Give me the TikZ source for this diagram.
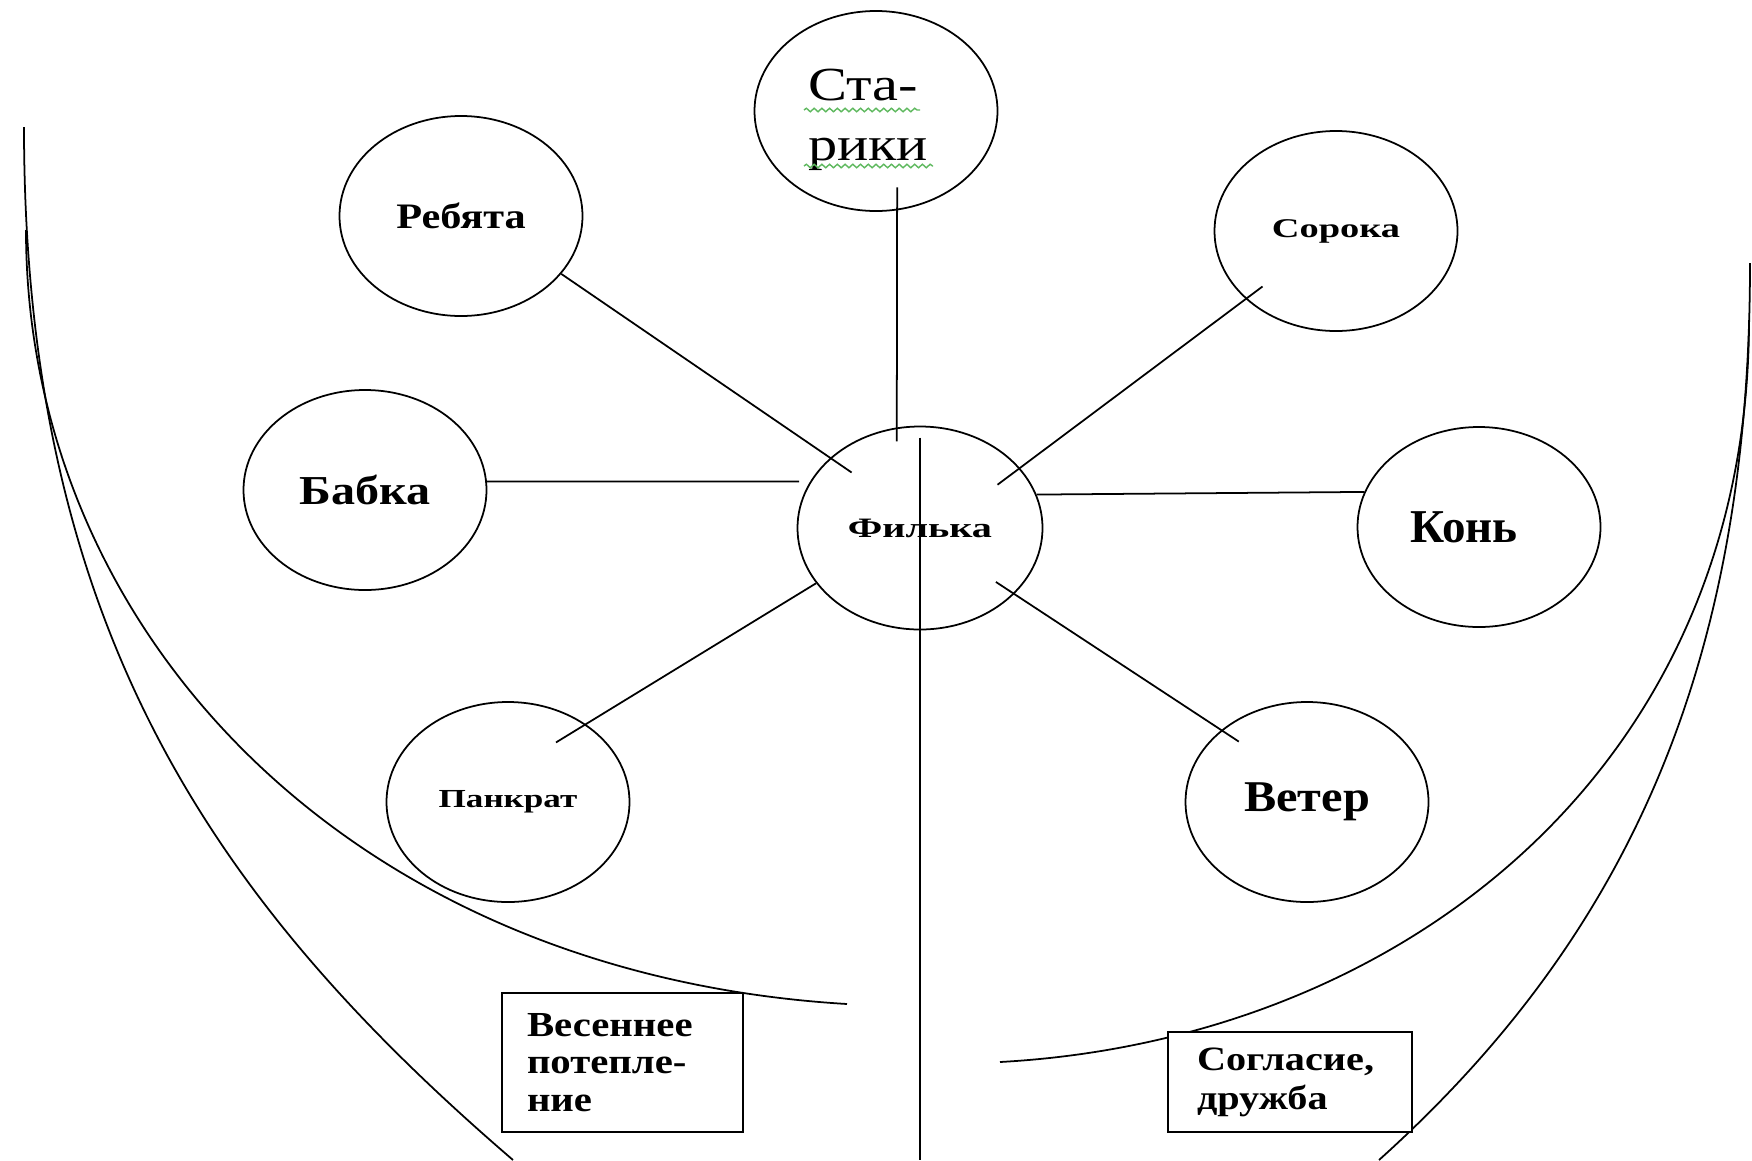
\documentclass[tikz,border=0pt]{standalone}
\usepackage{fontspec}
\setmainfont{Liberation Serif}
\usepackage{graphicx}
\usetikzlibrary{shapes.geometric}
\usetikzlibrary{positioning}
\usetikzlibrary{decorations.pathmorphing}

\definecolor{spell}{RGB}{95,185,95}
\newcommand{\wide}[2]{\scalebox{#1}[1]{#2}}
\newcommand{\sinkline}[1]{\raisebox{-0.09cm}[\height][\depth]{#1}}

\begin{document}
\begin{tikzpicture}[
  hero/.style={draw, ellipse, line width=0.5pt, minimum width=2.43cm, minimum height=2cm, inner sep=0pt},
  spoke/.style={line width=0.5pt},
  rim/.style={line width=0.5pt},
  note/.style={draw, fill=white, line width=0.7pt, align=left, inner ysep=0pt},
  squiggle/.style={spell, line width=0.4pt, decorate, decoration={snake, amplitude=0.5pt, segment length=2.2pt}}
]
 \fill[white] (0,0) rectangle (17.52,-11.60);
 \useasboundingbox (0,0) rectangle (17.52,-11.60);
 \coordinate (axisend) at (9.20,-11.60);

    % left curves
    \draw[rim] (0.24,-1.27) .. controls (0.24,-6.27) and (2.13,-9.02) .. (5.13,-11.60);
    \draw[rim] (0.26,-2.30) .. controls (0.26,-6.30) and (3.47,-9.74) .. (8.47,-10.04);

    % right curves
    \draw[rim] (17.50,-2.63) .. controls (17.50,-6.63) and (16.29,-9.35) .. (13.79,-11.60);
    \draw[rim] (17.49,-3.20) .. controls (17.49,-7.70) and (14.00,-10.40) .. (10.00,-10.62);

    % characters
    \node[hero, align=left, font=\fontsize{13.5}{17}\selectfont] (star) at (8.76,-1.11)
          {\sinkline{\wide{1.23}{Ста-}}\\\sinkline{\wide{1.23}{рики}}\hspace*{0.16cm}};
    \node[hero, font=\bfseries\fontsize{10.2}{12}\selectfont] (reb) at (4.61,-2.16) {\wide{1.18}{Ребята}};
    \node[hero, font=\bfseries\fontsize{7.7}{9}\selectfont] (sor) at (13.36,-2.31) {\wide{1.42}{Сорока}};
    \node[hero, font=\bfseries\fontsize{11.7}{14}\selectfont] (bab) at (3.65,-4.90) {\wide{1.17}{Бабка}};
    \node[hero, minimum width=2.45cm, minimum height=2.03cm, font=\bfseries\fontsize{8}{10}\selectfont] (fil) at (9.20,-5.28) {\wide{1.43}{Филька}};
    \node[hero, font=\bfseries\fontsize{13.4}{16}\selectfont] (kon) at (14.79,-5.27) {Конь\hspace*{0.3cm}};
    \node[hero, font=\bfseries\fontsize{7.4}{9}\selectfont] (pan) at (5.08,-8.02) {\wide{1.35}{Панкрат}};
    \node[hero, font=\bfseries\fontsize{12.5}{15}\selectfont] (vet) at (13.07,-8.02) {\wide{1.1}{Ветер}};

    \draw[squiggle] (8.04,-1.10) -- (9.20,-1.10);
    \draw[squiggle] (8.04,-1.66) -- (9.33,-1.66);

    % spokes
    \draw[spoke, shorten <=-0.23cm, shorten >=-0.14cm] (star.-78) -- (fil.103);
    \draw[spoke, shorten >=-0.26cm] (reb.-30) -- (fil.142);
    \draw[spoke, shorten <=-0.21cm, shorten >=-0.28cm] (sor.-143) -- (fil.31);
    \draw[spoke, shorten >=0.11cm] (bab.4) -- (fil.157);
    \draw[spoke] (fil.16) -- (kon.163);
    \draw[spoke, shorten <=-0.35cm] (pan.45) -- (fil.-152);
    \draw[spoke, shorten <=-0.22cm, shorten >=-0.21cm] (fil.-35) -- (vet.140);
    \draw[spoke, shorten <=0.12cm] (fil.north) -- (axisend);

    % boxes
    \node[note, minimum width=2.41cm, minimum height=1.39cm, text width=1.91cm, inner xsep=0.25cm,
          font=\bfseries\fontsize{10}{10.7}\selectfont] (vesna) at (6.225,-10.625)
          {\wide{1.16}{Весеннее}\\\wide{1.16}{потепле-}\\\wide{1.16}{ние}};
    \node[note, minimum width=2.44cm, minimum height=1.00cm, text width=1.86cm, inner xsep=0.29cm,
          font=\bfseries\fontsize{9.7}{11.1}\selectfont] (drug) at (12.90,-10.82)
          {\wide{1.18}{Согласие,}\\\wide{1.18}{дружба}};
\end{tikzpicture}
\end{document}
